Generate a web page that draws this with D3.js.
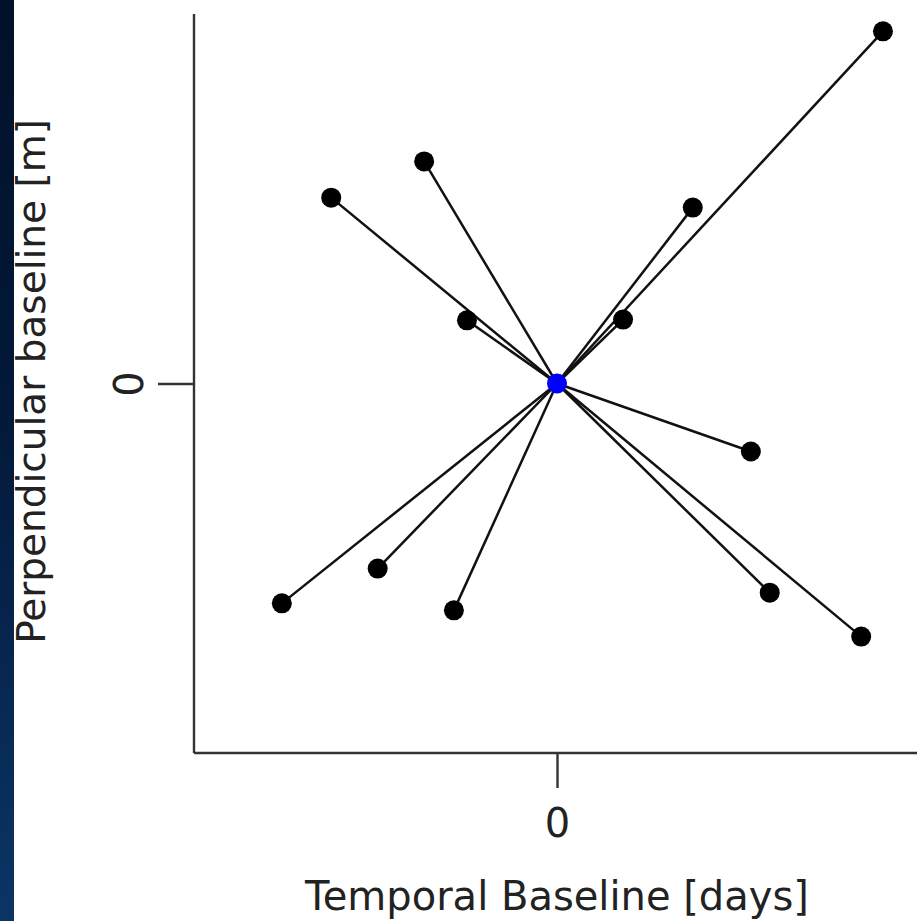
<!DOCTYPE html>
<html><head><meta charset="utf-8">
<script src="https://cdn.jsdelivr.net/npm/d3@7"></script>
<style>html,body{margin:0;padding:0;background:#fff;}svg{display:block;}</style>
</head><body>
<script>
// Temporal baseline (days) and perpendicular baseline (m) of secondary acquisitions, relative to the reference (0,0)
const temporalDays = [44.9, -18.3, -31.1, 18.7, -12.4, 9.1, 26.7, -24.7, -37.9, -14.2, 29.3, 41.9];
const perpMeters   = [95.3, 60.1, 50.3, 47.6, 17.1, 17.3, -18.4, -50.1, -59.5, -61.4, -56.6, -68.5];
const reference = [0, 0];
const xTicks = [0];
const yTicks = [0];

const W = 917, H = 921;
const svg = d3.select("body").append("svg").attr("width", W).attr("height", H);

// left decorative strip
const defs = svg.append("defs");
const g = defs.append("linearGradient").attr("id","strip").attr("x1",0).attr("y1",0).attr("x2",0).attr("y2",1);
g.append("stop").attr("offset","0%").attr("stop-color","#01112a");
g.append("stop").attr("offset","45%").attr("stop-color","#03193a");
g.append("stop").attr("offset","100%").attr("stop-color","#0b3566");
svg.append("rect").attr("x",0).attr("y",0).attr("width",14).attr("height",H).attr("fill","url(#strip)");

const x = d3.scaleLinear().domain([-50, 50]).range([194, 920]);
const y = d3.scaleLinear().domain([-100, 100]).range([753, 14]);

const axisColor = "#333";
const FONT = "DejaVu Sans";
// axes
const xAxis = svg.append("g").attr("transform", `translate(0,753)`)
  .call(d3.axisBottom(x).tickValues(xTicks).tickSize(35).tickFormat(d3.format("d")));
const yAxis = svg.append("g").attr("transform", `translate(194,0)`)
  .call(d3.axisLeft(y).tickValues(yTicks).tickSize(36).tickFormat(d3.format("d")));
[xAxis, yAxis].forEach(a => {
  a.select(".domain").attr("stroke", axisColor).attr("stroke-width", 2.4);
  a.selectAll(".tick line").attr("stroke", axisColor).attr("stroke-width", 2.4);
  a.selectAll(".tick text").attr("fill","#222").style("font-family",FONT).style("font-size","40px");
});
xAxis.select(".domain").attr("d", `M${x.range()[0]},0H${x.range()[1]}`);
yAxis.select(".domain").attr("d", `M0,${y.range()[0]}V${y.range()[1]}`);
xAxis.selectAll(".tick text").attr("y", 84).attr("dy", null);
// rotate y tick label as in R (las=0)
yAxis.selectAll(".tick text").attr("x", null).attr("dy", null)
  .attr("text-anchor","middle").attr("transform","translate(-51,0) rotate(-90)");

// lines
const pts = temporalDays.map((t,i)=>({t, p: perpMeters[i]}));
svg.append("g").selectAll("line").data(pts).join("line")
  .attr("x1", x(reference[0])).attr("y1", y(reference[1]))
  .attr("x2", d=>x(d.t)).attr("y2", d=>y(d.p))
  .attr("stroke","#111").attr("stroke-width",2.5);
svg.append("g").selectAll("circle").data(pts).join("circle")
  .attr("cx", d=>x(d.t)).attr("cy", d=>y(d.p)).attr("r",10).attr("fill","#000");
svg.append("circle").attr("cx", x(reference[0])).attr("cy", y(reference[1])).attr("r",10).attr("fill","#0000ff");

// titles
svg.append("text").attr("x", x(0)).attr("y", 910).attr("text-anchor","middle")
  .style("font-family",FONT).style("font-size","40px").attr("fill","#222")
  .text("Temporal Baseline [days]");
svg.append("text").attr("transform", `translate(45,${y(0)-2}) rotate(-90)`).attr("text-anchor","middle")
  .style("font-family",FONT).style("font-size","39px").attr("fill","#222")
  .text("Perpendicular baseline [m]");
</script>
</body></html>
